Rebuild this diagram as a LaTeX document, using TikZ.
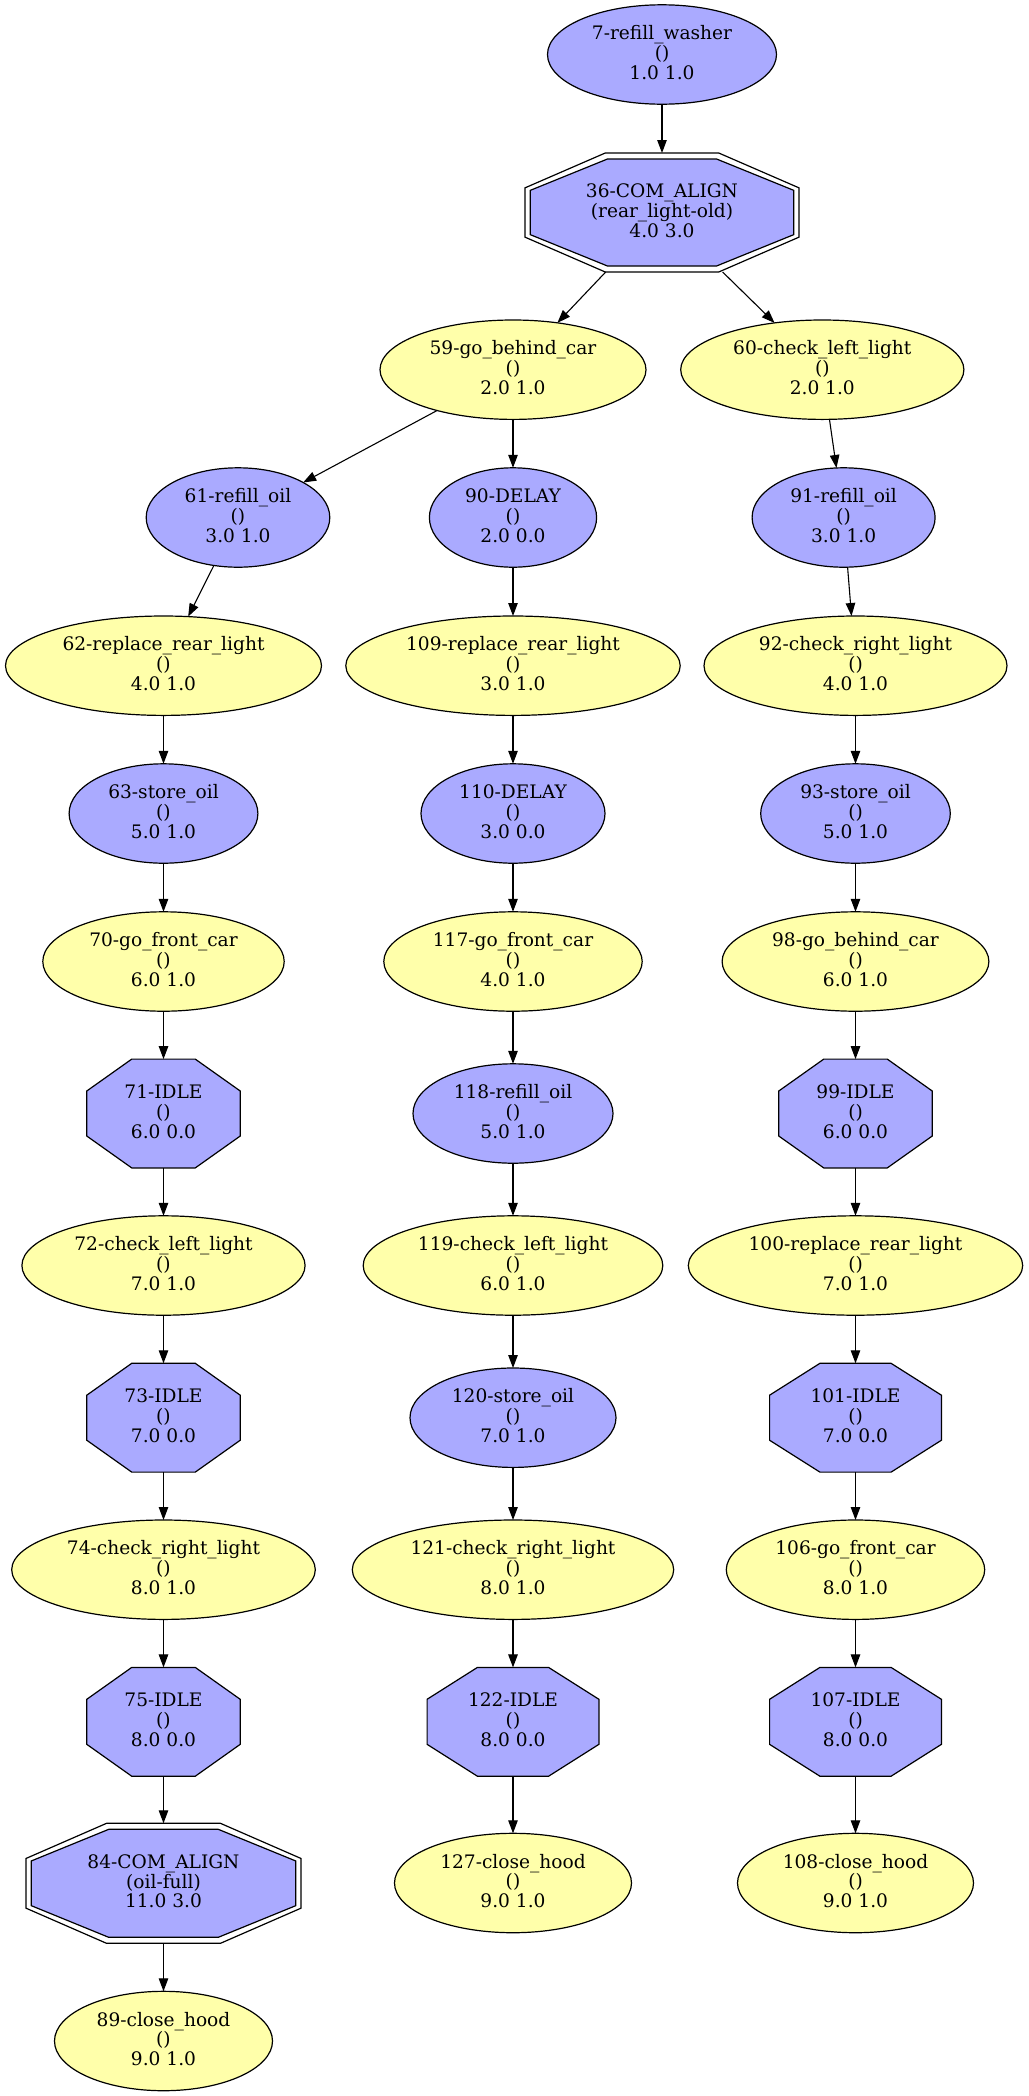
\documentclass[tikz,border=0pt]{standalone}
\usepackage{fontspec}
\setmainfont{DejaVu Serif}
\usetikzlibrary{arrows.meta,shapes.geometric}
\definecolor{taskblue}{HTML}{AAAAFF}
\definecolor{taskyellow}{HTML}{FFFFAA}
\tikzset{
  shapeline/.style={draw=black, line width=1.2pt},
  ellnode/.style={shapeline, ellipse, inner sep=0pt, outer sep=0pt, minimum height=99.4pt},
  boxnode/.style={rectangle, inner sep=0pt, outer sep=0pt},
  txt/.style={align=center, inner sep=0pt, font=\fontsize{18.6}{19.8}\selectfont, yshift=2pt},
  flow/.style={draw=black, line width=1.1pt, -{Triangle[length=13pt,width=9.5pt]}},
}
% ellipse task: name, x, y, half width, fill, label
\newcommand\taskell[6]{%
  \node[ellnode, fill=#5, minimum width={2*#4pt}] (#1) at (#2,#3) {};
  \node[txt] (#1-t) at (#1.center) {#6};}
% octagon outline: x, y, half width, half height, style
\newcommand\octpath[5]{%
  \path[shapeline, #5] ({#1-#3},{#2-0.4142*#4}) -- ({#1-0.4142*#3},{#2-#4})
    -- ({#1+0.4142*#3},{#2-#4}) -- ({#1+#3},{#2-0.4142*#4})
    -- ({#1+#3},{#2+0.4142*#4}) -- ({#1+0.4142*#3},{#2+#4})
    -- ({#1-0.4142*#3},{#2+#4}) -- ({#1-#3},{#2+0.4142*#4}) -- cycle;}
% octagon task: name, x, y, half width, half height, label
\newcommand\taskoct[6]{%
  \octpath{#2}{#3}{#4}{#5}{fill=taskblue}
  \node[boxnode, minimum width={2*#4pt}, minimum height={2*#5pt}] (#1) at (#2,#3) {};
  \node[txt] (#1-t) at (#1.center) {#6};}
% double-bordered octagon task: name, x, y, half width, half height, label
\newcommand\taskdbl[6]{%
  \octpath{#2}{#3}{#4}{#5}{fill=white}
  \octpath{#2}{#3}{(#4-5.3)}{(#5-6)}{fill=taskblue}
  \node[boxnode, minimum width={2*#4pt}, minimum height={2*#5pt}] (#1) at (#2,#3) {};
  \node[txt] (#1-t) at (#1.center) {#6};}
\begin{document}
\begin{tikzpicture}[x=1pt, y=-1pt]
\fill[white] (0,0) rectangle (1028,2096);
\path[use as bounding box] (0,0) rectangle (1028,2096);

\taskell{n7}{662}{54.5}{114.5}{taskblue}{7-refill\_washer\\()\\1.0 1.0}
\taskdbl{n36}{662}{212.5}{137}{59.5}{36-COM\_ALIGN\\(rear\_light-old)\\4.0 3.0}

\taskell{n59}{513}{369.7}{133}{taskyellow}{59-go\_behind\_car\\()\\2.0 1.0}
\taskell{n60}{822.3}{369.7}{141.6}{taskyellow}{60-check\_left\_light\\()\\2.0 1.0}

\taskell{n61}{238}{517.5}{91.8}{taskblue}{61-refill\_oil\\()\\3.0 1.0}
\taskell{n90}{513}{517.5}{83.6}{taskblue}{90-DELAY\\()\\2.0 0.0}
\taskell{n91}{843.6}{517.5}{91.5}{taskblue}{91-refill\_oil\\()\\3.0 1.0}

\taskell{n62}{163.5}{665.7}{158}{taskyellow}{62-replace\_rear\_light\\()\\4.0 1.0}
\taskell{n109}{513}{665.7}{167.2}{taskyellow}{109-replace\_rear\_light\\()\\3.0 1.0}
\taskell{n92}{855.5}{665.7}{151.5}{taskyellow}{92-check\_right\_light\\()\\4.0 1.0}

\taskell{n63}{163.5}{813.5}{94.4}{taskblue}{63-store\_oil\\()\\5.0 1.0}
\taskell{n110}{513}{813.5}{92}{taskblue}{110-DELAY\\()\\3.0 0.0}
\taskell{n93}{855.5}{813.5}{94.8}{taskblue}{93-store\_oil\\()\\5.0 1.0}

\taskell{n70}{163.5}{961.5}{120.7}{taskyellow}{70-go\_front\_car\\()\\6.0 1.0}
\taskell{n117}{513}{961.5}{129.2}{taskyellow}{117-go\_front\_car\\()\\4.0 1.0}
\taskell{n98}{855.5}{961.5}{133.4}{taskyellow}{98-go\_behind\_car\\()\\6.0 1.0}

\taskoct{n71}{163.5}{1113.5}{76.7}{54.4}{71-IDLE\\()\\6.0 0.0}
\taskell{n118}{513}{1113.5}{100}{taskblue}{118-refill\_oil\\()\\5.0 1.0}
\taskoct{n99}{855.5}{1113.5}{76.7}{54.4}{99-IDLE\\()\\6.0 0.0}

\taskell{n72}{163.5}{1265.5}{141.6}{taskyellow}{72-check\_left\_light\\()\\7.0 1.0}
\taskell{n119}{513}{1265.5}{149.8}{taskyellow}{119-check\_left\_light\\()\\6.0 1.0}
\taskell{n100}{855.5}{1265.5}{167.2}{taskyellow}{100-replace\_rear\_light\\()\\7.0 1.0}

\taskoct{n73}{163.5}{1417.7}{76.7}{54.4}{73-IDLE\\()\\7.0 0.0}
\taskell{n120}{513}{1417.7}{103}{taskblue}{120-store\_oil\\()\\7.0 1.0}
\taskoct{n101}{855.5}{1417.7}{85.9}{54.4}{101-IDLE\\()\\7.0 0.0}

\taskell{n74}{163.5}{1569.7}{151.8}{taskyellow}{74-check\_right\_light\\()\\8.0 1.0}
\taskell{n121}{513}{1569.7}{160.7}{taskyellow}{121-check\_right\_light\\()\\8.0 1.0}
\taskell{n106}{855.5}{1569.7}{129.2}{taskyellow}{106-go\_front\_car\\()\\8.0 1.0}

\taskoct{n75}{163.5}{1721.8}{76.7}{54.4}{75-IDLE\\()\\8.0 0.0}
\taskoct{n122}{513}{1721.8}{85.9}{54.4}{122-IDLE\\()\\8.0 0.0}
\taskoct{n107}{855.5}{1721.8}{85.9}{54.4}{107-IDLE\\()\\8.0 0.0}

\taskdbl{n84}{163.5}{1883.3}{137.5}{60}{84-COM\_ALIGN\\(oil-full)\\11.0 3.0}
\taskell{n127}{513}{1883}{118.5}{taskyellow}{127-close\_hood\\()\\9.0 1.0}
\taskell{n108}{855.5}{1883}{118}{taskyellow}{108-close\_hood\\()\\9.0 1.0}

\taskell{n89}{163.5}{2041}{109}{taskyellow}{89-close\_hood\\()\\9.0 1.0}

% precedence links
\draw[flow] (n7) -- (n36);
\draw[flow] (n36) -- (n59);
\draw[flow] (n36) -- (n60);
\draw[flow] (n59) -- (n61);
\draw[flow] (n59) -- (n90);
\draw[flow] (n60) -- (n91);
\draw[flow] (n61) -- (n62);
\draw[flow] (n90) -- (n109);
\draw[flow] (n91) -- (n92);
\draw[flow] (n62) -- (n63);
\draw[flow] (n109) -- (n110);
\draw[flow] (n92) -- (n93);
\draw[flow] (n63) -- (n70);
\draw[flow] (n110) -- (n117);
\draw[flow] (n93) -- (n98);
\draw[flow] (n70) -- (n71);
\draw[flow] (n117) -- (n118);
\draw[flow] (n98) -- (n99);
\draw[flow] (n71) -- (n72);
\draw[flow] (n118) -- (n119);
\draw[flow] (n99) -- (n100);
\draw[flow] (n72) -- (n73);
\draw[flow] (n119) -- (n120);
\draw[flow] (n100) -- (n101);
\draw[flow] (n73) -- (n74);
\draw[flow] (n120) -- (n121);
\draw[flow] (n101) -- (n106);
\draw[flow] (n74) -- (n75);
\draw[flow] (n121) -- (n122);
\draw[flow] (n106) -- (n107);
\draw[flow] (n75) -- (n84);
\draw[flow] (n122) -- (n127);
\draw[flow] (n107) -- (n108);
\draw[flow] (n84) -- (n89);
\end{tikzpicture}
\end{document}
